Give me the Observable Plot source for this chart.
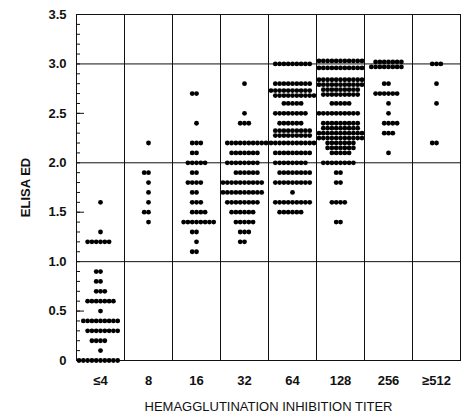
<!DOCTYPE html>
<html><head><meta charset="utf-8">
<script src="https://cdn.jsdelivr.net/npm/d3@7"></script>
<script src="https://cdn.jsdelivr.net/npm/@observablehq/plot@0.6"></script>
<style>body{margin:0;background:#fff}</style>
</head><body><div id="chart"></div>
<script>
const titers = ["≤4", "8", "16", "32", "64", "128", "256", "≥512"];
const yTicks = [0, 0.5, 1, 1.5, 2, 2.5, 3, 3.5];
const halfTicks = [0.5, 1.5, 2.5];
const minorTicks = d3.range(0, 36).map(i => i / 10);
// each row: [ELISA ED value, number of sera at that value]
const rows4 = [[0,10],[0.1,1],[0.2,4],[0.3,8],[0.4,9],[0.5,1],[0.6,7],[0.7,3],[0.8,2],[0.9,2],[1.2,6],[1.3,1],[1.6,1]];
const rows8 = [[1.4,1],[1.5,2],[1.6,1],[1.7,1],[1.8,1],[1.9,2],[2.2,1]];
const rows16 = [[1.1,2],[1.2,1],[1.3,2],[1.4,8],[1.5,4],[1.6,3],[1.7,2],[1.8,4],[1.9,2],[2.0,5],[2.1,2],[2.2,3],[2.4,1],[2.7,2]];
const rows32 = [[1.2,2],[1.3,3],[1.4,5],[1.5,6],[1.6,8],[1.7,10],[1.8,10],[1.9,6],[2.0,8],[2.1,7],[2.2,10],[2.4,3],[2.5,1],[2.8,1]];
const rows64 = [[1.5,6],[1.6,9],[1.7,1],[1.8,9],[1.9,8],[2.0,8],[2.1,9],[2.2,11],[2.275,9],[2.325,9],[2.4,6],[2.5,8],[2.6,5],[2.68,10],[2.73,10],[2.8,9],[3.0,9]];
const rows128 = [[1.4,2],[1.6,4],[1.8,2],[1.9,2],[2.0,8],[2.1,5],[2.15,7],[2.2,7],[2.25,11],[2.3,11],[2.35,9],[2.4,9],[2.5,10],[2.6,5],[2.69,9],[2.74,9],[2.79,11],[2.84,11],[2.96,11],[3.03,11]];
const rows256 = [[2.1,1],[2.3,3],[2.4,4],[2.5,1],[2.6,1],[2.7,6],[2.8,2],[2.97,8],[3.02,7]];
const rows512 = [[2.2,2],[2.6,1],[2.8,1],[3.0,3]];

const series = [rows4, rows8, rows16, rows32, rows64, rows128, rows256, rows512];
const data = series.flatMap((rows, i) =>
  rows.flatMap(([v, n]) => d3.range(n).map(() => ({titer: titers[i], ed: v}))));

const chart = Plot.plot({
  width: 464, height: 417,
  marginLeft: 72, marginRight: 1, marginTop: 14, marginBottom: 57,
  style: {fontFamily: "'Liberation Sans', Arial, sans-serif", fontSize: "12px", color: "#111", background: "#fff"},
  fx: {domain: titers, padding: 0, label: null},
  y: {domain: [0, 3.5], label: null},
  marks: [
    Plot.frame({stroke: "#111"}),
    Plot.ruleY([1, 2, 3], {stroke: "#111"}),
    Plot.axisY({ticks: minorTicks, tickSize: -4, tickFormat: () => "", stroke: "#111", label: null}),
    Plot.axisY({ticks: halfTicks, tickSize: -8, tickFormat: () => "", stroke: "#111", label: null}),
    Plot.axisY({ticks: yTicks, tickSize: 0, tickPadding: 10, fontWeight: "bold", fontSize: 13,
      tickFormat: d => d === 0 ? "0" : d.toFixed(1),
      label: "ELISA ED", labelArrow: "none", labelAnchor: "center", labelOffset: 56}),
    Plot.axisFx({anchor: "bottom", tickSize: 0, tickPadding: 15, fontWeight: "bold", fontSize: 13, label: null}),
    Plot.axisFx({anchor: "bottom", tickSize: 0, tickFormat: () => "", fontSize: 13,
      label: "HEMAGGLUTINATION INHIBITION TITER", labelArrow: "none", labelAnchor: "center", labelOffset: 50}),
    Plot.dot(data, Plot.dodgeX({anchor: "middle", padding: -0.5}, {fx: "titer", y: "ed", r: 2.4, fill: "#000"}))
  ]
});
document.getElementById("chart").append(chart);
</script>
</body></html>
